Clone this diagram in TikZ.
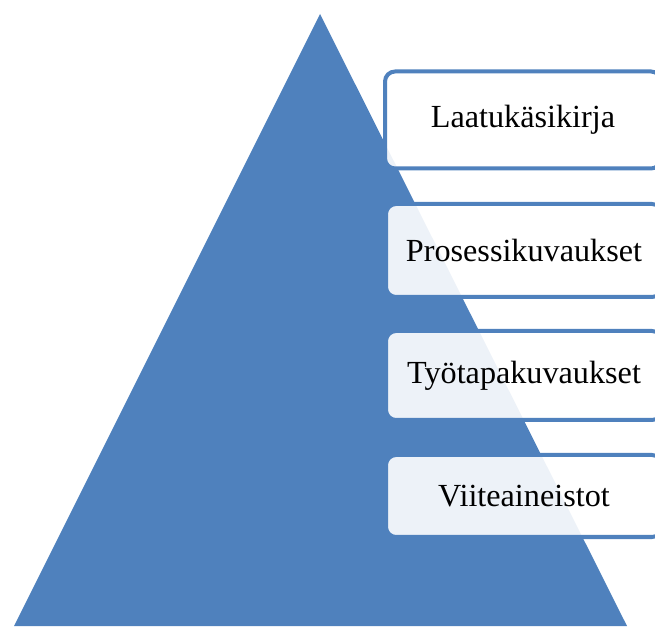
\documentclass[tikz,border=0pt]{standalone}
\usepackage{fontspec}
\setmainfont{Liberation Serif}
\usepackage{tikz}
\usetikzlibrary{positioning}
\definecolor{pyramid}{HTML}{4F81BD}

\begin{document}
\begin{tikzpicture}[x=1pt, y=1pt,
  levelbox/.style={draw=pyramid, line width=4pt, fill=white, fill opacity=0.9, text opacity=1,
    rounded corners=10pt, minimum width=276pt, inner sep=0pt, font=\fontsize{32.2}{37}\selectfont}]
  \useasboundingbox (0,0) rectangle (655,626);
  \clip (0,0) rectangle (655,626);

  % Pyramid
  \coordinate (apex) at (320,612);
  \coordinate (baseL) at (14,0);
  \coordinate (baseR) at (627,0);
  \fill[pyramid] (apex) -- (baseR) -- (baseL) -- cycle;

  % Levels
  \node[levelbox, minimum height=97pt] (manual) at (523,506) {Laatukäsikirja};
  \node[levelbox, minimum height=93pt] (process) at (524,375.5) {Prosessikuvaukset};
  \node[levelbox, minimum height=89pt] (work) at (524,250.5) {Työtapakuvaukset};
  \node[levelbox, minimum height=82pt] (refs) at (524,130) {Viiteaineistot};
\end{tikzpicture}
\end{document}
